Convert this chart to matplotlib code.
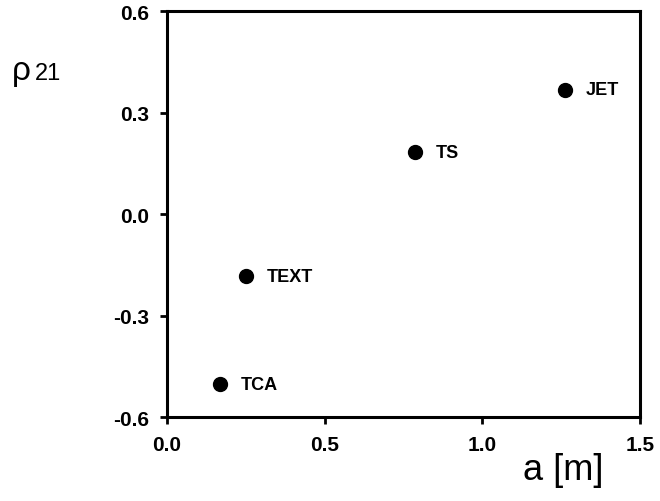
import matplotlib.pyplot as plt

# devices: minor radius a [m] vs correlation rho_21
names = ['TCA', 'TEXT', 'TS', 'JET']
a_values = [0.168, 0.25, 0.787, 1.262]
rho_values = [-0.503, -0.183, 0.183, 0.367]

xticks = [0.0, 0.5, 1.0, 1.5]
yticks = [-0.6, -0.3, 0.0, 0.3, 0.6]

plt.rcParams['font.family'] = ['Liberation Sans', 'DejaVu Sans']

fig = plt.figure(figsize=(6.6, 5.02), dpi=100)
ax = fig.add_axes([0.253, 0.167, 0.717, 0.809])

ax.plot(a_values, rho_values, 'o', color='black', markersize=10)
for x, y, name in zip(a_values, rho_values, names):
    ax.annotate(name, (x, y), xytext=(15, 0), textcoords='offset points',
                va='center', ha='left', fontsize=13, fontweight='bold')

ax.set_xlim(0, 1.5)
ax.set_ylim(-0.6, 0.6)
ax.set_xticks(xticks)
ax.set_yticks(yticks)
ax.set_xticklabels(['%.1f' % v for v in xticks], fontsize=15, fontweight='bold')
ax.set_yticklabels(['%.1f' % v for v in yticks], fontsize=15, fontweight='bold')
ax.tick_params(direction='out', length=5, width=2, pad=8)
for s in ax.spines.values():
    s.set_linewidth(2.2)

# axis titles placed like the original
fig.text(0.018, 0.858, 'ρ', fontsize=24, va='center', ha='left')
fig.text(0.053, 0.852, '21', fontsize=17, va='center', ha='left')
fig.text(0.853, 0.063, 'a [m]', fontsize=26, va='center', ha='center')

plt.savefig('out.png', dpi=100)
